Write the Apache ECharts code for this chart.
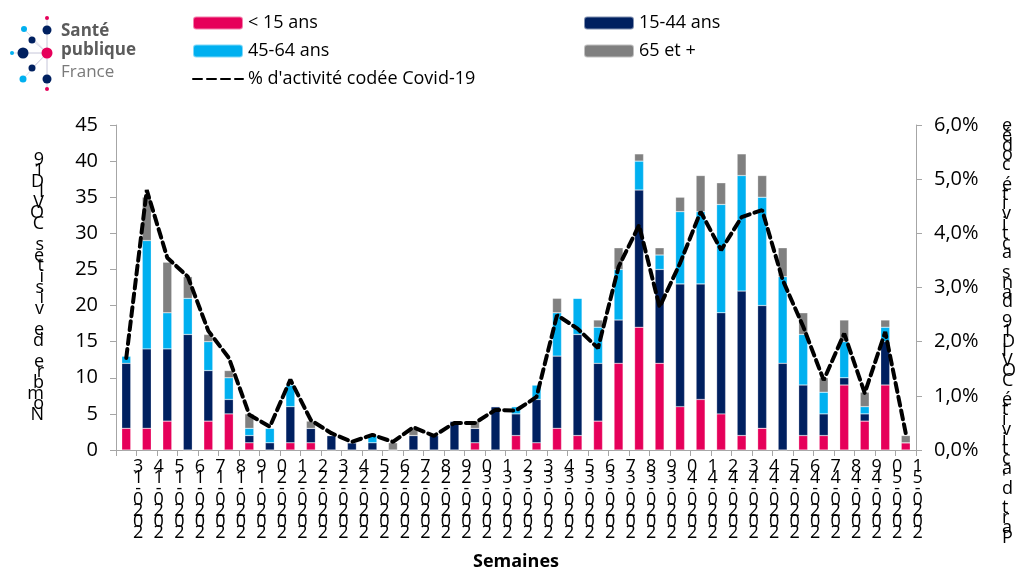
<!DOCTYPE html>
<html>
<head>
<meta charset="utf-8">
<script src="https://cdn.jsdelivr.net/npm/echarts@6/dist/echarts.min.js"></script>
<style>
  html, body { margin: 0; padding: 0; background: #fff; }
  #chart { width: 1020px; height: 571px; }
</style>
</head>
<body>
<div id="chart"></div>
<script>
// semaines 13 à 51 de 2020
const weeks = ['2020-13','2020-14','2020-15','2020-16','2020-17','2020-18','2020-19','2020-20','2020-21','2020-22',
  '2020-23','2020-24','2020-25','2020-26','2020-27','2020-28','2020-29','2020-30','2020-31','2020-32',
  '2020-33','2020-34','2020-35','2020-36','2020-37','2020-38','2020-39','2020-40','2020-41','2020-42',
  '2020-43','2020-44','2020-45','2020-46','2020-47','2020-48','2020-49','2020-50','2020-51']

const moins15 = [3,3,4,0,4,5,1,0,1,1,0,0,0,0,0,0,0,1,0,2,1,3,2,4,12,17,12,6,7,5,2,3,0,2,2,9,4,9,1]
const ans15_44 = [9,11,10,16,7,2,1,1,5,2,2,1,1,0,2,2,4,2,6,3,6,10,14,8,6,19,13,17,16,14,20,17,12,7,3,1,1,6,0]
const ans45_64 = [1,15,5,5,4,3,1,2,3,0,0,0,1,0,0,0,0,0,0,1,2,6,5,5,7,4,2,10,10,15,16,15,12,7,3,5,1,2,0]
const ans65plus = [0,6,7,3,1,1,2,0,0,1,0,0,0,1,1,0,0,1,0,0,0,2,0,1,3,1,1,2,5,3,3,3,4,3,2,3,2,1,1]
// % d'activité codée Covid-19
const pctCovid = [1.7,4.8,3.55,3.2,2.2,1.7,0.65,0.43,1.3,0.55,0.31,0.15,0.28,0.15,0.42,0.26,0.5,0.5,0.74,0.73,
  0.98,2.49,2.24,1.88,3.38,4.15,2.64,3.45,4.4,3.69,4.3,4.43,3.14,2.28,1.29,2.15,1.05,2.18,0.31]

const leftTicks = [0,5,10,15,20,25,30,35,40,45]
const rightTicks = [0,1,2,3,4,5,6]

const titreGauche = 'Nombre de visites COVID19'
const titreDroite = "Part d'activité COVID19 dans activité codée"

// texte empilé, lu de bas en haut
function empile(s) {
  return s.split('').reverse().join('\n')
}

const axisGrey = '#a6a6a6'
const font = '"Open Sans", "Noto Sans", sans-serif'

let myChart = echarts.init(document.getElementById('chart'))

const barSeries = (name, data, color) => ({
  name, type: 'bar', stack: 'total', data,
  barWidth: 9,
  itemStyle: { color, borderColor: 'rgba(255,255,255,0.5)', borderWidth: 0.5 }
})

// logo Santé publique France
const dots = [
  [47,18,2,'#e6005a'],[24,29,3,'#00b0f0'],[47,30,4.5,'#002060'],[32,40,3.5,'#002060'],
  [23,53,5.5,'#002060'],[12,53,2,'#00b0f0'],[47,53,5.5,'#e6005a'],[32,68,3.5,'#002060'],
  [23,79,3.5,'#00b0f0'],[47,79,4.5,'#002060'],[47,89,2,'#e6005a']
]
const logo = []
dots.forEach(d => {
  logo.push({ type: 'line', shape: { x1: 47, y1: 53, x2: d[0], y2: d[1] }, style: { stroke: '#d9d9e6', lineWidth: 1 } })
})
dots.forEach(d => {
  logo.push({ type: 'circle', shape: { cx: d[0], cy: d[1], r: d[2] }, style: { fill: d[3] } })
})
logo.push({ type: 'text', left: 61, top: 23, style: { text: 'Santé', font: 'bold 17px "Open Sans", sans-serif', fill: '#5b5b5b' } })
logo.push({ type: 'text', left: 61, top: 42, style: { text: 'publique', font: 'bold 17px "Open Sans", sans-serif', fill: '#5b5b5b' } })
logo.push({ type: 'text', left: 61, top: 64, style: { text: 'France', font: '17px "Open Sans", sans-serif', fill: '#7a7a7a' } })

const legendText = { fontSize: 18, color: '#000', fontFamily: font }

const option = {
  animation: false,
  textStyle: { fontFamily: font },
  graphic: logo,
  legend: [
    {
      left: 187, top: 9, orient: 'vertical', itemGap: 10,
      itemWidth: 50, itemHeight: 13,
      textStyle: legendText,
      data: ['< 15 ans', '45-64 ans', { name: "% d'activité codée Covid-19", itemStyle: { opacity: 0 } }]
    },
    {
      left: 578, top: 9, orient: 'vertical', itemGap: 10,
      itemWidth: 50, itemHeight: 13,
      textStyle: legendText,
      data: ['15-44 ans', '65 et +']
    }
  ],
  grid: { left: 116, right: 104, top: 125, bottom: 121, outerBoundsMode: 'none' },
  xAxis: {
    type: 'category',
    data: weeks,
    name: 'Semaines',
    nameLocation: 'middle',
    nameGap: 103,
    nameTextStyle: { fontSize: 18, fontWeight: 'bold', color: '#000' },
    axisLine: { lineStyle: { color: axisGrey } },
    axisTick: { show: true, length: 6, lineStyle: { color: axisGrey } },
    axisLabel: {
      interval: 0, fontSize: 18, color: '#000', lineHeight: 11,
      margin: 11, padding: [0, 0, 0, 24], verticalAlign: 'top',
      formatter: v => empile(v)
    }
  },
  yAxis: [
    {
      type: 'value', min: 0, max: 45, interval: 5,
      name: empile(titreGauche),
      nameLocation: 'middle', nameRotate: 0, nameGap: 72,
      nameTextStyle: { fontSize: 18, color: '#000', lineHeight: 10.6 },
      axisLine: { show: true, lineStyle: { color: axisGrey } },
      axisTick: { show: true, inside: false, length: 6, lineStyle: { color: axisGrey } },
      splitLine: { show: false },
      axisLabel: {
        fontSize: 20, color: '#000', margin: 18,
        formatter: v => leftTicks.includes(v) ? String(v) : ''
      }
    },
    {
      type: 'value', min: 0, max: 6, interval: 1,
      // lignes vides en tête pour descendre le titre comme dans l'original
      name: '\n\n\n\n\n\n\n\n\n' + empile(titreDroite),
      nameLocation: 'middle', nameRotate: 0, nameGap: 86,
      nameTextStyle: { fontSize: 18, color: '#000', lineHeight: 9.8 },
      axisLine: { show: true, lineStyle: { color: axisGrey } },
      axisTick: { show: true, inside: false, length: 6, lineStyle: { color: axisGrey } },
      splitLine: { show: false },
      axisLabel: {
        fontSize: 20, color: '#000', margin: 18,
        formatter: v => rightTicks.includes(v) ? v.toFixed(1).replace('.', ',') + '%' : ''
      }
    }
  ],
  series: [
    barSeries('< 15 ans', moins15, '#e6005a'),
    barSeries('15-44 ans', ans15_44, '#002060'),
    barSeries('45-64 ans', ans45_64, '#00b0f0'),
    barSeries('65 et +', ans65plus, '#808080'),
    {
      name: "% d'activité codée Covid-19",
      type: 'line',
      yAxisIndex: 1,
      data: pctCovid,
      symbol: 'none',
      z: 5,
      lineStyle: { color: '#000', width: 4, type: [9, 5], cap: 'round' },
      itemStyle: { color: '#000' }
    }
  ]
}

myChart.setOption(option)
</script>
</body>
</html>
